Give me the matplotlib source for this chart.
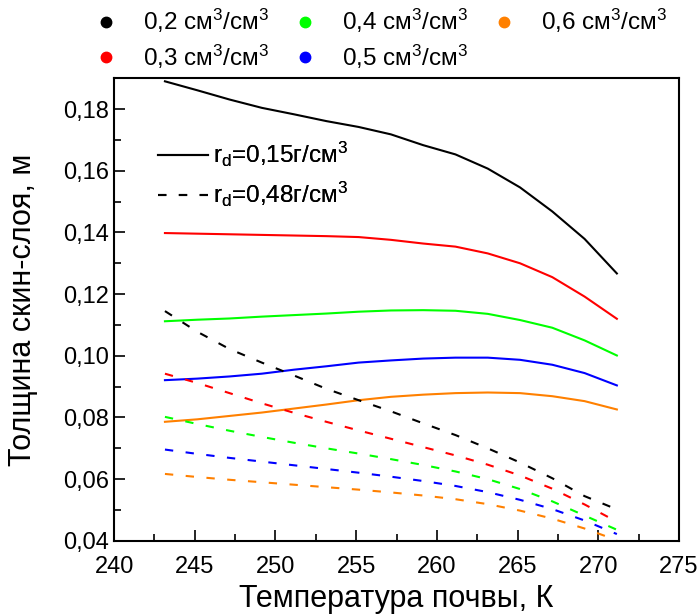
import numpy as np
import matplotlib
matplotlib.use("Agg")
import matplotlib.pyplot as plt
from matplotlib.lines import Line2D
from matplotlib.ticker import MultipleLocator, FuncFormatter

plt.rcParams["font.family"] = ["Liberation Sans", "DejaVu Sans"]
plt.rcParams["mathtext.fontset"] = "custom"
plt.rcParams["mathtext.rm"] = "Liberation Sans"
plt.rcParams["mathtext.it"] = "Liberation Sans:italic"

temps = [243.15, 245.15, 247.15, 249.15, 251.15, 253.15, 255.15, 257.15,
         259.15, 261.15, 263.15, 265.15, 267.15, 269.15, 271.15]

moisture = ["0,2", "0,3", "0,4", "0,5", "0,6"]
colors = ["#000000", "#ff0000", "#00ff00", "#0000ff", "#ff8000"]

# skin depth, rd = 0.15 g/cm3 (solid)
light = [
    [0.1890, 0.1861, 0.1831, 0.1804, 0.1783, 0.1761, 0.1742, 0.1718,
     0.1683, 0.1653, 0.1607, 0.1546, 0.1468, 0.1379, 0.1267],
    [0.1398, 0.1396, 0.1394, 0.1392, 0.1390, 0.1388, 0.1385, 0.1376,
     0.1364, 0.1354, 0.1332, 0.1300, 0.1255, 0.1192, 0.1120],
    [0.1112, 0.1117, 0.1121, 0.1127, 0.1132, 0.1137, 0.1143, 0.1147,
     0.1148, 0.1146, 0.1136, 0.1116, 0.1091, 0.1050, 0.1001],
    [0.0921, 0.0926, 0.0933, 0.0942, 0.0955, 0.0966, 0.0978, 0.0985,
     0.0991, 0.0994, 0.0994, 0.0987, 0.0971, 0.0944, 0.0904],
    [0.0786, 0.0794, 0.0805, 0.0816, 0.0829, 0.0842, 0.0856, 0.0867,
     0.0874, 0.0879, 0.0881, 0.0879, 0.0869, 0.0853, 0.0826],
]

# skin depth, rd = 0.48 g/cm3 (dashed)
dense = [
    [0.1145, 0.1078, 0.1022, 0.0978, 0.0936, 0.0893, 0.0856, 0.0820,
     0.0781, 0.0743, 0.0700, 0.0654, 0.0603, 0.0545, 0.0502],
    [0.0942, 0.0912, 0.0879, 0.0846, 0.0815, 0.0786, 0.0758, 0.0731,
     0.0704, 0.0677, 0.0647, 0.0612, 0.0569, 0.0518, 0.0462],
    [0.0802, 0.0779, 0.0757, 0.0737, 0.0718, 0.0700, 0.0683, 0.0665,
     0.0646, 0.0625, 0.0600, 0.0568, 0.0528, 0.0482, 0.0436],
    [0.0696, 0.0682, 0.0669, 0.0657, 0.0645, 0.0633, 0.0621, 0.0608,
     0.0594, 0.0578, 0.0558, 0.0533, 0.0503, 0.0466, 0.0422],
    [0.0617, 0.0607, 0.0598, 0.0590, 0.0582, 0.0574, 0.0566, 0.0557,
     0.0547, 0.0535, 0.0519, 0.0498, 0.0472, 0.0440, 0.0402],
]

fig = plt.figure(figsize=(7, 6.16), dpi=100)
ax = fig.add_axes([0.163, 0.122, 0.807, 0.751])

for c, ys in zip(colors, light):
    ax.plot(temps, ys, color=c, lw=1.5)
for c, ys in zip(colors, dense):
    ax.plot(temps, ys, color=c, lw=1.5, dashes=(4, 6))

ax.set_xlim(240, 275)
ax.set_ylim(0.04, 0.19)
ax.xaxis.set_major_locator(MultipleLocator(5))
ax.xaxis.set_minor_locator(MultipleLocator(2.5))
ax.yaxis.set_major_locator(MultipleLocator(0.02))
ax.yaxis.set_minor_locator(MultipleLocator(0.01))
ax.yaxis.set_major_formatter(FuncFormatter(lambda v, p: f"{v:.2f}".replace(".", ",")))
ax.tick_params(which="both", direction="in", labelsize=17, width=1.2)
ax.tick_params(which="major", length=8)
ax.tick_params(which="minor", length=5)
ax.tick_params(axis="x", pad=11)
for s in ax.spines.values():
    s.set_linewidth(1.5)

ax.set_xlabel("Температура почвы, К", fontsize=22, labelpad=4)
ax.set_ylabel("Толщина скин-слоя, м", fontsize=22)
ax.yaxis.set_label_coords(-0.135, 0.5)

# density legend inside the axes
dens_handles = [Line2D([], [], color="black", lw=1.5),
                Line2D([], [], color="black", lw=1.5, dashes=(4, 6))]
dens_labels = [r"r$_{\rm d}$=0,15г/см$^{3}$", r"r$_{\rm d}$=0,48г/см$^{3}$"]
leg2 = ax.legend(dens_handles, dens_labels, loc="upper left",
                 bbox_to_anchor=(0.0385, 0.913), frameon=False, fontsize=17.5,
                 handlelength=2.06, handletextpad=0.2, labelspacing=0.45)
ax.add_artist(leg2)

# moisture legend above the axes
mo_handles = [Line2D([], [], color=c, marker="o", ls="none", markersize=7.5)
              for c in colors]
mo_labels = [m + " см$^{3}$/см$^{3}$" for m in moisture]
fig.legend(mo_handles, mo_labels, ncol=3, loc="upper left",
           bbox_to_anchor=(0.103, 1.024), frameon=False, fontsize=17.5,
           handlelength=1.0, handletextpad=1.0, columnspacing=1.0,
           labelspacing=0.3)

fig.savefig("out.png", dpi=100)
